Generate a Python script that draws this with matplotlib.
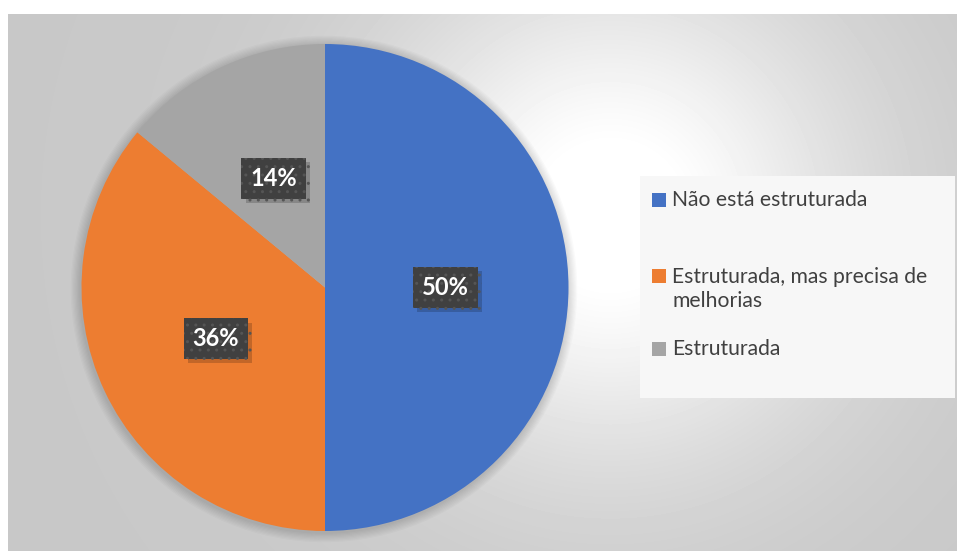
import numpy as np
import matplotlib.pyplot as plt
import matplotlib.patheffects as pe
from matplotlib.patches import Rectangle, Circle

# dados
categorias = ["Não está estruturada", "Estruturada, mas precisa de\nmelhorias", "Estruturada"]
valores = [50, 36, 14]
cores = ["#4472C4", "#ED7D31", "#A5A5A5"]

W, H = 957, 551
fig = plt.figure(figsize=(W / 100, H / 100), dpi=100)
plt.rcParams['font.family'] = ['Lato', 'DejaVu Sans']

# fundo com gradiente radial
x0, y0 = 8, 14
bg = fig.add_axes([x0 / W, 0, (W - x0) / W, (H - y0) / H])
xx, yy = np.meshgrid(np.arange(x0, W), np.arange(y0, H))
d = np.hypot(xx - 610, yy - 215)
v = np.clip((200 + 60 * np.exp(-(d / 240) ** 2)) / 255, 0, 1)
bg.imshow(v, cmap='gray', vmin=0, vmax=1, aspect='auto', interpolation='bilinear')
bg.axis('off')

# pizza
cx, cy, r = 325, 287.5, 243.5
m = 1.06
ax = fig.add_axes([(cx - r * m) / W, (H - cy - r * m) / H, 2 * r * m / W, 2 * r * m / H])
# sombra suave da pizza
for k in range(8):
    ax.add_patch(Circle((-0.004, -0.006), 1.0 + 0.005 * (k + 1), fc='black',
                        ec='none', alpha=0.018, zorder=0))
wedges, _ = ax.pie(valores, colors=cores, startangle=90, counterclock=False,
                   wedgeprops=dict(linewidth=0, zorder=1))
ax.set_xlim(-m, m)
ax.set_ylim(-m, m)
ax.set_aspect('equal')
ax.axis('off')

for w, val in zip(wedges, valores):
    ang = np.deg2rad((w.theta1 + w.theta2) / 2)
    px, py = 0.495 * np.cos(ang), 0.495 * np.sin(ang)
    t = ax.text(px, py, f"{val}%", ha='center', va='center', fontsize=17,
                fontweight='bold', color='white', zorder=5,
                bbox=dict(boxstyle='square,pad=0.38', fc='#404040', ec='#555555',
                          hatch='..', lw=0))
    t.get_bbox_patch().set_path_effects([
        pe.SimplePatchShadow(offset=(3, -3), shadow_rgbFace='black', alpha=0.18),
        pe.Normal()])

# legenda
fig.patches.append(Rectangle((640 / W, 1 - 398 / H), 315 / W, 222 / H,
                             transform=fig.transFigure, fc='#f7f7f7', ec='none'))
ys = [200, 289, 349]
for cat, cor, yl in zip(categorias, cores, ys):
    n = cat.count("\n")
    ysq = yl - 13 * n
    fig.patches.append(Rectangle((652 / W, 1 - (ysq + 7) / H), 14 / W, 14 / H,
                                 transform=fig.transFigure, fc=cor, ec='none'))
    fig.text(672 / W, 1 - yl / H, cat, ha='left', va='center', fontsize=15.2,
             color='#404040', linespacing=1.25)

fig.savefig("out.png", dpi=100)
